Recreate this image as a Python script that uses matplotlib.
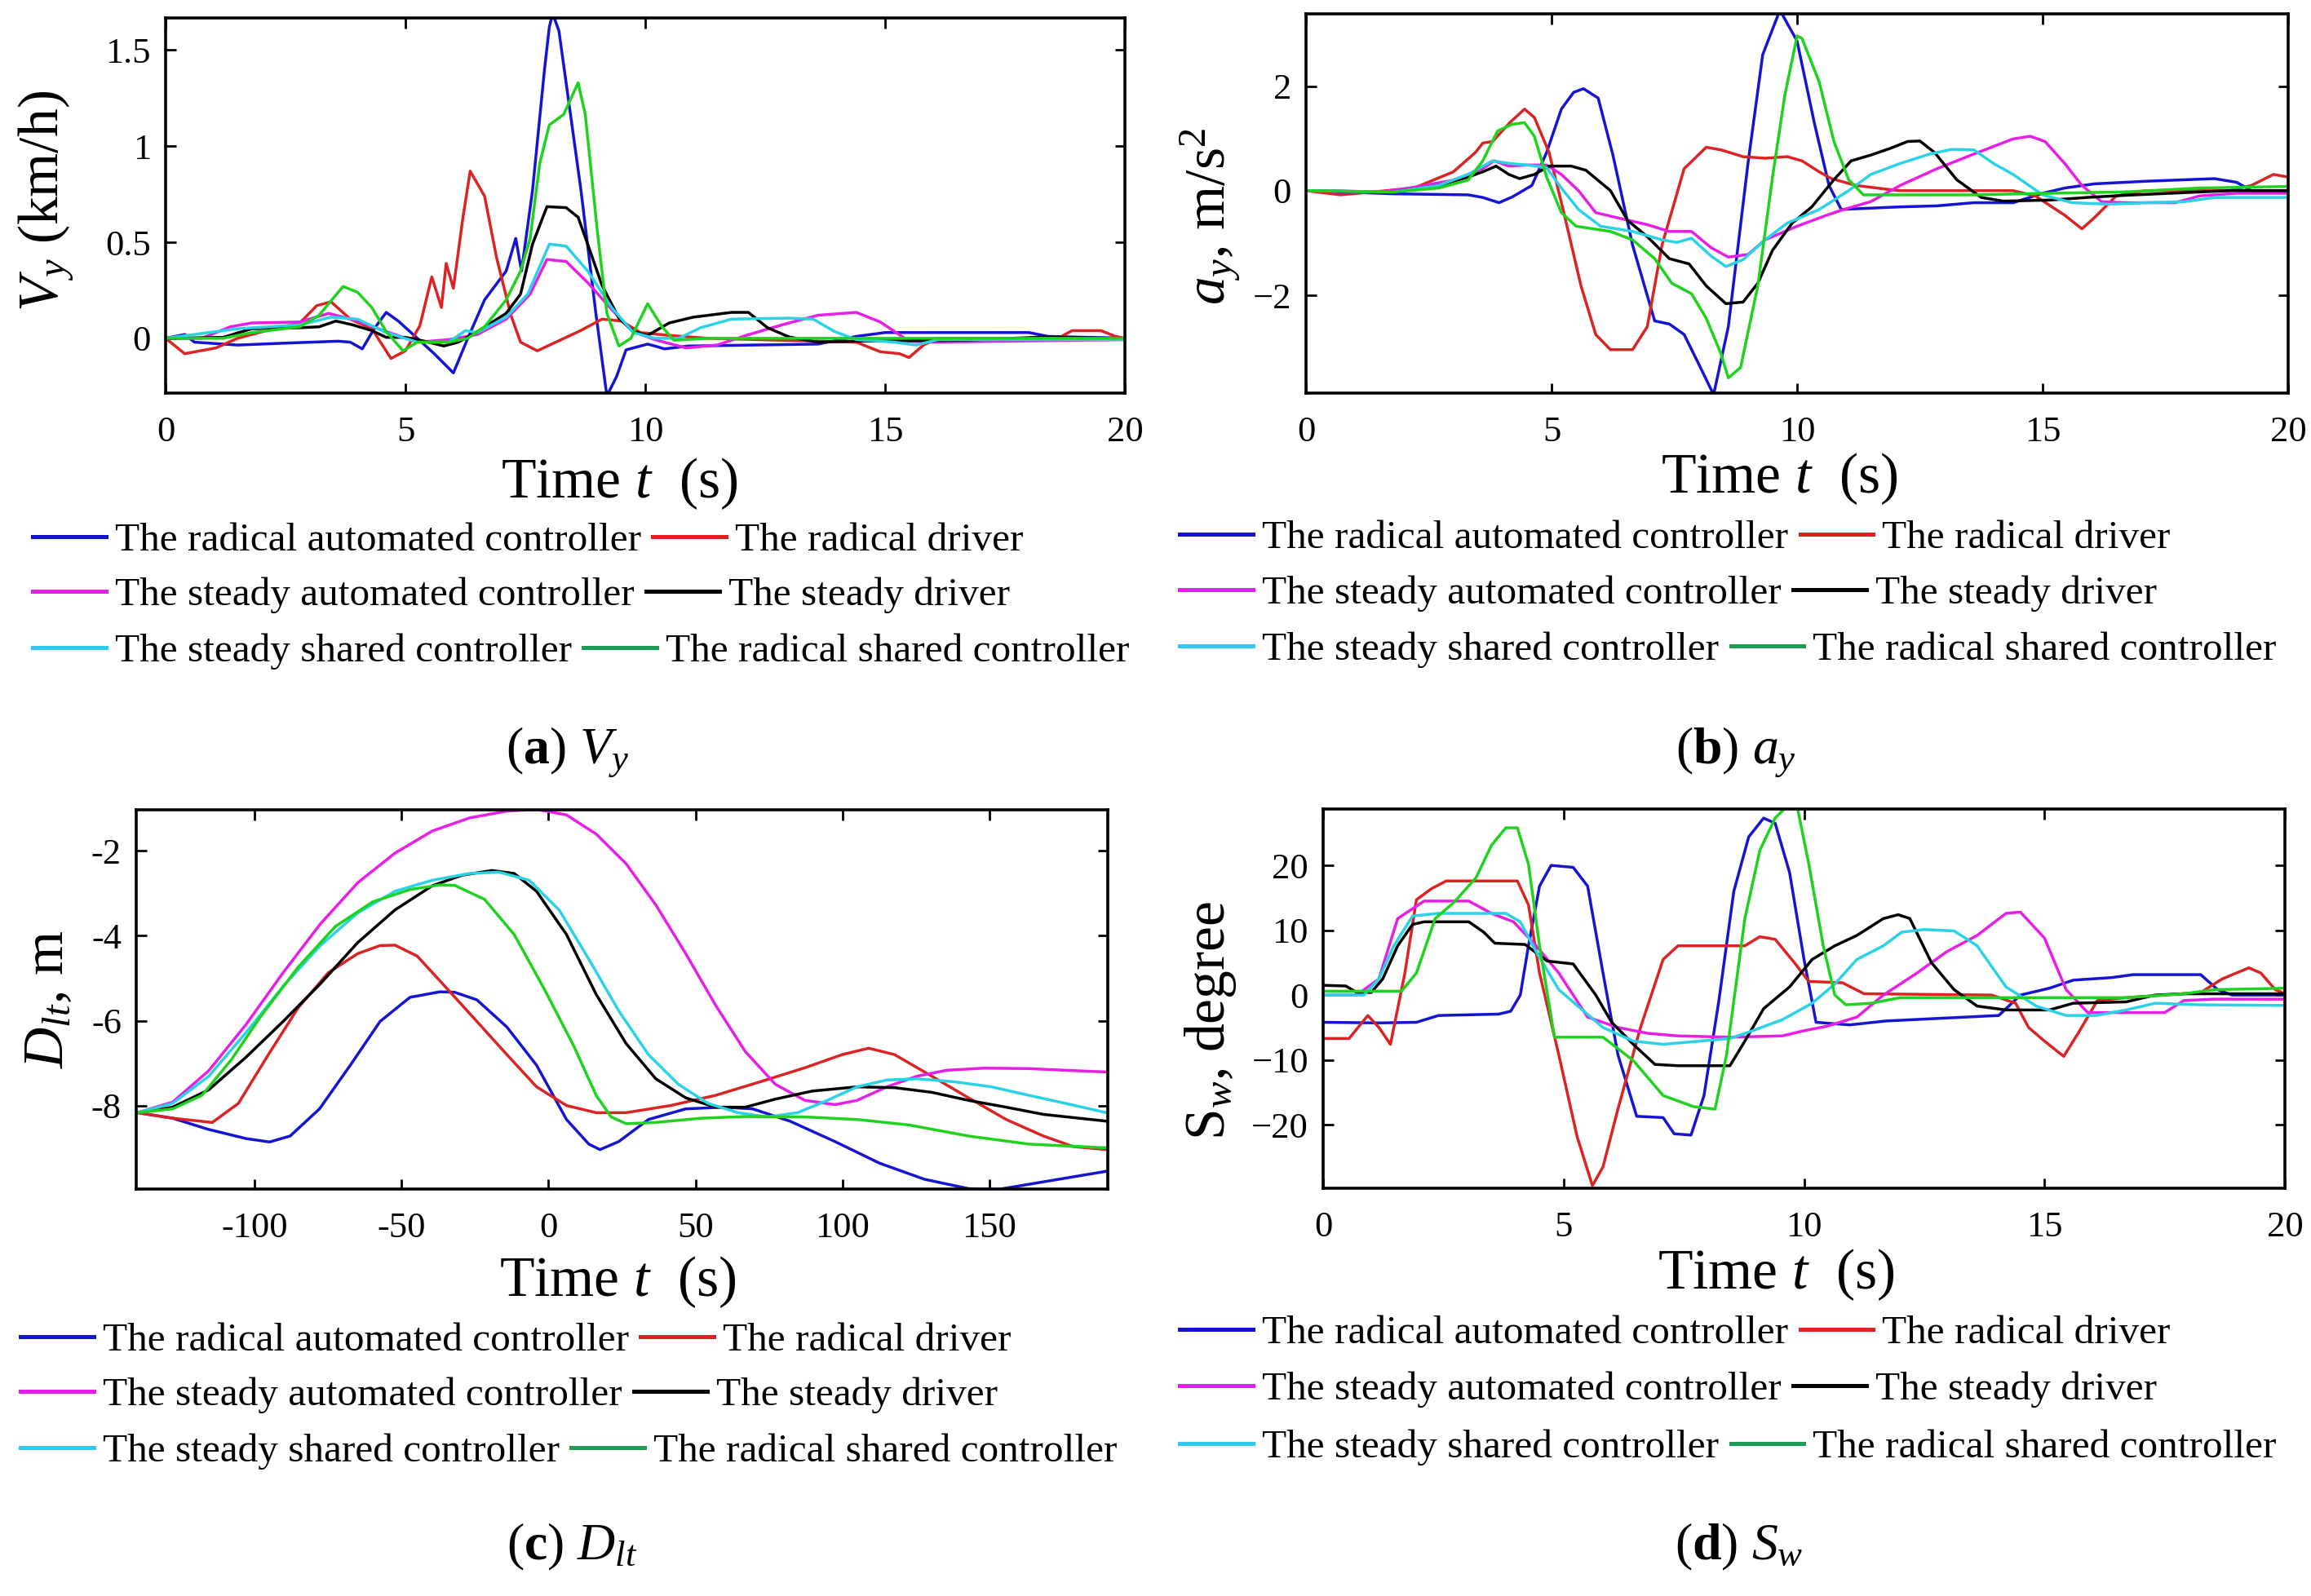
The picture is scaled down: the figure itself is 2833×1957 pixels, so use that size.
import numpy as np
import matplotlib
matplotlib.use("Agg")
import matplotlib.pyplot as plt
from matplotlib.lines import Line2D

plt.rcParams['font.family'] = ['Liberation Serif', 'DejaVu Serif']
plt.rcParams['mathtext.fontset'] = 'custom'
plt.rcParams['mathtext.rm'] = 'Liberation Serif'
plt.rcParams['mathtext.it'] = 'Liberation Serif:italic'
plt.rcParams['mathtext.bf'] = 'Liberation Serif:bold'

W, H = 2833, 1957

# ---------------- data ----------------
LABELS = ["The radical automated controller", "The radical driver",
          "The steady automated controller", "The steady driver",
          "The steady shared controller", "The radical shared controller"]
LINE_COLORS = ["#1414d2", "#dc2323", "#e61ee6", "#000000", "#2ad2e6", "#1ed21e"]
LEGEND_COLORS = ["#1414c8", "#dc2323", "#e61ee6", "#000000", "#32c8ee", "#1e9b55"]

# (a) lateral speed Vy, km/h
vy_rad_auto = [(0, 0), (0.4, 0.02), (0.6, -0.02), (1.5, -0.035), (2.5, -0.025), (3.6, -0.015),
               (3.85, -0.02), (4.1, -0.055), (4.35, 0.05), (4.6, 0.135), (4.85, 0.09), (5.25, 0.0),
               (5.6, -0.08), (6.0, -0.18), (6.3, 0.0), (6.65, 0.2), (7.1, 0.35), (7.3, 0.52),
               (7.42, 0.35), (7.65, 0.77), (7.9, 1.4), (8.0, 1.62), (8.07, 1.69), (8.2, 1.6),
               (8.35, 1.33), (8.66, 0.77), (8.97, 0.13), (9.2, -0.3), (9.4, -0.2), (9.6, -0.06),
               (10.05, -0.03), (10.2, -0.04), (10.4, -0.055), (10.9, -0.04), (13.6, -0.03),
               (14.4, 0.01), (15.0, 0.03), (18.0, 0.03), (18.4, 0.01), (20, 0.0)]
vy_rad_drv = [(0, 0), (0.4, -0.08), (1.05, -0.05), (1.5, 0.0), (2.1, 0.04), (2.8, 0.08), (3.15, 0.17),
              (3.45, 0.19), (3.85, 0.1), (4.3, 0.05), (4.7, -0.105), (5.0, -0.065), (5.3, 0.065),
              (5.55, 0.32), (5.75, 0.16), (5.85, 0.39), (6.0, 0.26), (6.2, 0.63), (6.35, 0.87),
              (6.65, 0.74), (6.9, 0.42), (7.2, 0.12), (7.4, -0.02), (7.75, -0.065), (8.05, -0.03),
              (8.65, 0.04), (9.1, 0.1), (9.5, 0.09), (9.9, 0.03), (10.5, 0.015), (11.3, 0.0),
              (14.4, -0.02), (14.9, -0.07), (15.3, -0.08), (15.5, -0.1), (15.8, -0.035), (16.1, 0.0),
              (18.6, 0.0), (18.9, 0.04), (19.5, 0.04), (19.8, 0.01), (20, 0.0)]
vy_std_auto = [(0, 0), (0.75, 0.0), (1.35, 0.06), (1.8, 0.08), (2.8, 0.085), (3.4, 0.13), (4.0, 0.09),
               (4.6, 0.035), (5.25, -0.02), (5.9, -0.007), (6.5, 0.02), (7.1, 0.1), (7.6, 0.23),
               (7.95, 0.41), (8.35, 0.4), (8.8, 0.29), (9.3, 0.15), (9.75, 0.035), (10.2, -0.007),
               (10.85, -0.05), (11.5, -0.035), (12.1, 0.015), (12.85, 0.07), (13.6, 0.12),
               (14.4, 0.135), (14.9, 0.085), (15.5, -0.015), (16.0, -0.02), (20, -0.007)]
vy_std_drv = [(0, 0), (1.2, 0.005), (1.8, 0.05), (2.8, 0.055), (3.2, 0.06), (3.55, 0.09), (3.9, 0.07),
              (4.3, 0.04), (4.6, 0.005), (5.0, 0.005), (5.4, -0.015), (5.8, -0.04), (6.1, -0.02),
              (6.5, 0.035), (7.1, 0.13), (7.4, 0.23), (7.65, 0.49), (7.95, 0.685), (8.35, 0.68),
              (8.6, 0.63), (8.8, 0.49), (9.1, 0.275), (9.45, 0.105), (9.75, 0.035), (10.05, 0.015),
              (10.5, 0.08), (11.0, 0.11), (11.8, 0.135), (12.15, 0.135), (12.55, 0.055), (13.0, 0.007),
              (13.6, -0.02), (14.4, -0.015), (16.7, -0.01), (18.3, 0.007), (20, 0.0)]
vy_std_shared = [(0, 0), (1.5, 0.05), (2.8, 0.07), (3.45, 0.11), (4.0, 0.1), (4.6, 0.03), (5.25, -0.02),
                 (5.9, -0.02), (6.25, 0.04), (6.5, 0.03), (7.1, 0.11), (7.55, 0.23), (8.0, 0.49),
                 (8.35, 0.48), (8.8, 0.35), (9.3, 0.16), (9.75, 0.03), (10.2, 0.0), (10.7, 0.0),
                 (11.15, 0.055), (11.8, 0.1), (13.0, 0.105), (13.5, 0.1), (13.95, 0.035),
                 (14.4, -0.007), (15.2, -0.02), (15.65, -0.035), (16.1, -0.007), (20, -0.007)]
vy_rad_shared = [(0, 0), (1.2, 0.0), (1.8, 0.03), (2.8, 0.06), (3.2, 0.12), (3.7, 0.27), (4.0, 0.24),
                 (4.3, 0.16), (4.6, 0.035), (4.95, -0.065), (5.25, -0.02), (5.9, -0.02), (6.3, 0.0),
                 (6.65, 0.06), (7.1, 0.2), (7.4, 0.35), (7.6, 0.52), (7.8, 0.91), (8.0, 1.11),
                 (8.3, 1.165), (8.4, 1.22), (8.6, 1.33), (8.75, 1.165), (9.0, 0.56), (9.2, 0.13),
                 (9.45, -0.04), (9.7, 0.0), (10.05, 0.18), (10.35, 0.06), (10.6, -0.01), (11.3, 0.0),
                 (20, 0.0)]

# (b) lateral acceleration ay, m/s^2
ay_rad_auto = [(0, 0), (1.78, -0.06), (3.3, -0.08), (3.6, -0.13), (3.93, -0.23), (4.2, -0.12), (4.6, 0.1),
               (4.9, 0.73), (5.2, 1.56), (5.45, 1.88), (5.65, 1.95), (5.95, 1.77), (6.25, 0.68),
               (6.65, -1.04), (7.1, -2.49), (7.4, -2.55), (7.7, -2.75), (8.0, -3.32), (8.3, -3.9),
               (8.6, -2.6), (9.0, 0.52), (9.3, 2.6), (9.65, 3.45), (10.0, 2.86), (10.35, 1.3),
               (10.65, 0.1), (10.9, -0.36), (11.35, -0.34), (12.1, -0.31), (12.85, -0.29),
               (13.6, -0.23), (14.4, -0.23), (15.0, -0.05), (15.45, 0.05), (16.05, 0.13),
               (17.1, 0.18), (18.5, 0.23), (18.95, 0.16), (19.25, 0.0), (20, 0.0)]
ay_rad_drv = [(0, 0), (0.7, -0.08), (1.3, -0.03), (2.2, 0.05), (3.0, 0.36), (3.45, 0.73), (3.6, 0.91),
              (3.8, 0.94), (4.15, 1.3), (4.45, 1.56), (4.65, 1.4), (4.95, 0.73), (5.25, -0.42),
              (5.6, -1.82), (5.9, -2.75), (6.2, -3.04), (6.65, -3.04), (6.95, -2.6), (7.25, -1.04),
              (7.7, 0.42), (8.15, 0.83), (8.45, 0.78), (8.9, 0.65), (9.35, 0.62), (9.8, 0.65),
              (10.1, 0.57), (10.45, 0.36), (10.7, 0.23), (11.2, 0.1), (11.8, 0.03), (12.1, 0.0),
              (14.4, 0.0), (14.85, -0.1), (15.45, -0.47), (15.8, -0.73), (16.05, -0.52),
              (16.5, -0.1), (17.1, 0.0), (18.8, 0.0), (19.25, 0.1), (19.7, 0.31), (20, 0.26)]
ay_std_auto = [(0, 0), (1.5, -0.025), (2.1, 0.05), (3.0, 0.2), (3.6, 0.42), (3.83, 0.57), (4.13, 0.47),
               (4.5, 0.49), (4.9, 0.49), (5.2, 0.31), (5.55, 0.0), (5.9, -0.42), (6.35, -0.52),
               (6.95, -0.65), (7.4, -0.78), (7.85, -0.78), (8.25, -1.09), (8.6, -1.27), (9.0, -1.22),
               (9.35, -0.94), (10.0, -0.68), (10.6, -0.47), (10.95, -0.36), (11.5, -0.21),
               (12.1, 0.1), (12.85, 0.42), (13.6, 0.7), (14.4, 0.99), (14.75, 1.04), (15.05, 0.94),
               (15.45, 0.52), (15.8, 0.1), (16.2, -0.21), (16.65, -0.23), (17.7, -0.23),
               (18.2, -0.1), (18.95, -0.05), (20, -0.05)]
ay_std_drv = [(0, 0), (1.78, -0.025), (2.7, 0.1), (3.3, 0.26), (3.6, 0.36), (3.87, 0.47), (4.13, 0.31),
              (4.35, 0.23), (4.65, 0.31), (4.95, 0.47), (5.4, 0.47), (5.7, 0.39), (6.2, 0.0),
              (6.55, -0.57), (6.95, -0.88), (7.4, -1.3), (7.8, -1.4), (8.15, -1.82), (8.55, -2.16),
              (8.9, -2.13), (9.2, -1.77), (9.5, -1.14), (9.9, -0.62), (10.3, -0.31), (10.75, 0.21),
              (11.1, 0.57), (11.5, 0.68), (11.9, 0.81), (12.25, 0.94), (12.5, 0.95), (12.8, 0.73),
              (13.25, 0.21), (13.75, -0.13), (14.2, -0.2), (15.15, -0.18), (15.9, -0.13),
              (16.65, -0.09), (18.2, -0.025), (18.8, 0.0), (20, 0.0)]
ay_std_shared = [(0, 0), (1.78, -0.025), (2.7, 0.1), (3.3, 0.31), (3.8, 0.57), (4.15, 0.52), (4.5, 0.49),
                 (4.9, 0.44), (5.2, 0.05), (5.55, -0.36), (6.0, -0.68), (6.65, -0.78), (7.25, -0.94),
                 (7.55, -0.99), (7.85, -0.91), (8.25, -1.25), (8.55, -1.45), (8.9, -1.32),
                 (9.35, -0.94), (9.8, -0.62), (10.45, -0.36), (11.05, 0.0), (11.5, 0.31), (12.1, 0.52),
                 (12.7, 0.7), (13.15, 0.79), (13.6, 0.78), (14.0, 0.52), (14.4, 0.31), (15.0, -0.08),
                 (15.6, -0.23), (16.35, -0.26), (17.1, -0.23), (17.9, -0.21), (18.5, -0.13),
                 (20, -0.13)]
ay_rad_shared = [(0, 0), (1.78, -0.025), (2.7, 0.05), (3.3, 0.2), (3.6, 0.57), (3.9, 1.14), (4.2, 1.27),
                 (4.45, 1.3), (4.65, 1.04), (4.9, 0.26), (5.2, -0.42), (5.5, -0.68), (6.2, -0.78),
                 (6.65, -0.94), (7.1, -1.3), (7.45, -1.77), (7.85, -1.97), (8.15, -2.44),
                 (8.45, -3.12), (8.6, -3.58), (8.85, -3.38), (9.2, -1.82), (9.5, 0.26), (9.75, 1.82),
                 (10.0, 2.96), (10.1, 2.91), (10.45, 2.08), (10.75, 0.94), (11.05, 0.21),
                 (11.35, -0.08), (13.6, -0.08), (15.15, -0.05), (16.65, -0.025), (18.2, 0.05),
                 (20, 0.08)]

# (c) lateral distance Dlt, m
dlt_rad_auto = [(-140, -8.17), (-128, -8.3), (-116, -8.56), (-103, -8.78), (-95, -8.86), (-88, -8.72),
                (-78, -8.08), (-67.5, -7.05), (-57.4, -6.02), (-47.2, -5.45), (-37, -5.32),
                (-32, -5.33), (-24.4, -5.51), (-14.2, -6.15), (-4.1, -7.05), (6.1, -8.33),
                (13.7, -8.91), (17.5, -9.04), (23.9, -8.85), (34, -8.33), (46.7, -8.08),
                (59.4, -8.04), (69.5, -8.08), (82.2, -8.37), (97.5, -8.85), (112.7, -9.36),
                (128, -9.74), (143, -9.96), (153, -9.98), (168.5, -9.8), (190, -9.55)]
dlt_rad_drv = [(-140, -8.17), (-128, -8.3), (-114.5, -8.4), (-105.6, -7.95), (-95.4, -6.8),
               (-85.3, -5.7), (-75, -4.87), (-65, -4.42), (-57.4, -4.23), (-52.3, -4.22),
               (-44.7, -4.48), (-34.5, -5.25), (-24.4, -6.02), (-14.2, -6.8), (-4.1, -7.56),
               (6.1, -8.0), (16.2, -8.17), (26.4, -8.17), (41.6, -8.0), (56.9, -7.76), (72.1, -7.44),
               (87.3, -7.11), (100, -6.8), (109, -6.65), (117.8, -6.8), (130.5, -7.31),
               (143, -7.82), (155.8, -8.33), (168.5, -8.72), (178.7, -8.97), (190, -9.04)]
dlt_std_auto = [(-140, -8.17), (-128, -7.92), (-115.7, -7.18), (-103, -6.09), (-90.4, -4.87),
                (-77.7, -3.72), (-65, -2.75), (-52.3, -2.05), (-39.6, -1.53), (-26.9, -1.22),
                (-14.2, -1.06), (-4.1, -1.02), (6.1, -1.15), (16.2, -1.6), (26.4, -2.3),
                (36.5, -3.27), (46.7, -4.42), (56.9, -5.64), (67, -6.73), (77.2, -7.5),
                (87.3, -7.88), (97.5, -7.98), (105, -7.88), (115.2, -7.56), (125.4, -7.31),
                (135.5, -7.17), (148.2, -7.12), (163.5, -7.13), (176, -7.17), (190, -7.21)]
dlt_std_drv = [(-140, -8.17), (-128, -8.04), (-115.7, -7.63), (-103, -6.86), (-90.4, -6.02),
               (-77.7, -5.13), (-65, -4.16), (-52.3, -3.39), (-39.6, -2.82), (-29.4, -2.57),
               (-19.3, -2.46), (-11.7, -2.53), (-4.1, -2.95), (6.1, -3.97), (16.2, -5.38),
               (26.4, -6.54), (36.5, -7.37), (46.7, -7.82), (56.9, -8.04), (67, -8.04),
               (77.2, -7.85), (89.8, -7.66), (105, -7.56), (117.8, -7.58), (130.5, -7.69),
               (143, -7.88), (155.8, -8.04), (168.5, -8.21), (190, -8.37)]
dlt_std_shared = [(-140, -8.17), (-128, -7.95), (-115.7, -7.31), (-103, -6.28), (-90.4, -5.19),
                  (-77.7, -4.23), (-65, -3.46), (-52.3, -2.95), (-39.6, -2.69), (-26.9, -2.53),
                  (-16.8, -2.5), (-6.6, -2.69), (3.6, -3.39), (13.7, -4.55), (23.9, -5.77),
                  (34, -6.8), (44.2, -7.5), (54.3, -7.95), (64.5, -8.17), (74.6, -8.27),
                  (84.8, -8.17), (94.9, -7.88), (105, -7.56), (115.2, -7.4), (125.4, -7.37),
                  (138, -7.44), (150.8, -7.56), (163.5, -7.76), (176, -7.95), (190, -8.17)]
dlt_rad_shared = [(-140, -8.17), (-128, -8.08), (-118, -7.76), (-108, -6.92), (-98, -5.9),
                  (-85.3, -4.74), (-72.6, -3.78), (-59.9, -3.2), (-47.2, -2.91), (-37, -2.8),
                  (-32, -2.81), (-21.8, -3.14), (-11.7, -3.97), (-1.5, -5.25), (8.6, -6.6),
                  (16.2, -7.76), (21.3, -8.27), (26.4, -8.43), (36.5, -8.4), (51.8, -8.3),
                  (67, -8.26), (87.3, -8.27), (105, -8.33), (122.8, -8.46), (143, -8.72),
                  (163.5, -8.91), (190, -9.0)]

# (d) steering wheel angle Sw, degree
sw_rad_auto = [(0, -4.2), (1.16, -4.3), (1.94, -4.2), (2.4, -3.15), (3.65, -2.94), (3.9, -2.5), (4.1, 0.0),
               (4.27, 7.6), (4.5, 16.8), (4.74, 20.0), (5.2, 19.7), (5.5, 16.8), (5.82, 3.4),
               (6.13, -9.2), (6.52, -18.7), (7.07, -18.9), (7.3, -21.4), (7.65, -21.6),
               (7.92, -15.5), (8.23, -0.84), (8.54, 16.0), (8.85, 24.4), (9.16, 27.3), (9.4, 26.5),
               (9.7, 18.9), (10.0, 5.5), (10.25, -4.2), (10.95, -4.6), (11.7, -4.0), (12.8, -3.6),
               (14.05, -3.15), (14.5, 0.0), (15.1, 1.05), (15.6, 2.3), (16.4, 2.7), (16.85, 3.15),
               (18.25, 3.15), (18.6, 0.84), (18.9, 0.0), (20, 0.0)]
sw_rad_drv = [(0, -6.7), (0.54, -6.7), (0.93, -3.15), (1.16, -5.0), (1.4, -7.6), (1.7, 3.4),
              (1.94, 14.7), (2.25, 16.4), (2.56, 17.6), (4.04, 17.6), (4.27, 13.9), (4.5, 3.4),
              (4.9, -9.2), (5.28, -21.8), (5.6, -29.4), (5.82, -26.5), (6.13, -17.6), (6.6, -5.0),
              (7.07, 5.5), (7.38, 7.6), (8.77, 7.6), (9.08, 9.0), (9.4, 8.6), (9.8, 5.0),
              (10.1, 2.1), (10.8, 1.9), (11.25, 0.2), (13.9, 0.0), (14.4, -1.26), (14.67, -5.0),
              (15.0, -7.1), (15.4, -9.45), (15.7, -5.9), (16.1, -0.84), (16.7, -0.4), (18.25, 0.4),
              (18.7, 2.5), (19.25, 4.2), (19.5, 3.4), (19.8, 0.84), (20, 0.2)]
sw_std_auto = [(0, 0.0), (0.7, 0.0), (1.16, 2.5), (1.55, 11.8), (2.1, 14.5), (3.03, 14.5), (3.5, 12.6),
               (3.96, 11.3), (4.43, 7.6), (4.9, 3.4), (5.5, -3.4), (6.13, -5.0), (6.75, -5.9),
               (7.38, -6.3), (8.46, -6.5), (9.55, -6.3), (10.0, -5.5), (10.48, -4.8), (11.1, -3.4),
               (11.65, 0.0), (12.35, 3.4), (12.97, 6.7), (13.6, 9.2), (14.2, 12.6), (14.5, 12.8),
               (15.0, 8.8), (15.45, 0.84), (15.9, -2.7), (17.5, -2.7), (17.9, -0.84),
               (18.55, -0.63), (20, -0.63)]
sw_std_drv = [(0, 1.5), (0.47, 1.4), (0.7, 0.4), (1.0, 0.4), (1.24, 2.5), (1.55, 7.6), (1.86, 10.9),
              (2.1, 11.3), (3.03, 11.3), (3.34, 9.7), (3.57, 8.0), (4.2, 7.8), (4.66, 5.25),
              (5.2, 4.8), (5.67, 0.0), (6.0, -4.2), (6.45, -7.6), (6.9, -10.7), (7.38, -10.9),
              (8.46, -10.9), (8.77, -7.1), (9.16, -2.1), (9.7, 1.26), (10.17, 5.5), (10.64, 7.6),
              (11.1, 9.2), (11.65, 11.8), (11.96, 12.4), (12.2, 11.8), (12.65, 5.0), (13.12, 0.84),
              (13.6, -1.7), (14.2, -2.3), (15.1, -2.3), (15.6, -1.26), (16.7, -1.05), (17.3, 0.0),
              (17.9, 0.2), (20, 0.2)]
sw_std_shared = [(0, 0.0), (0.85, 0.0), (1.16, 2.5), (1.47, 7.6), (1.86, 12.2), (2.4, 12.6), (3.8, 12.6),
                 (4.1, 11.3), (4.43, 6.7), (4.9, 0.84), (5.36, -2.1), (5.82, -5.0), (6.45, -7.1),
                 (7.07, -7.6), (7.84, -7.1), (8.46, -6.7), (8.93, -5.5), (9.55, -3.8),
                 (10.17, -1.26), (10.64, 1.7), (11.1, 5.5), (11.65, 7.6), (12.03, 9.7), (12.5, 10.1),
                 (13.12, 9.9), (13.6, 7.6), (14.2, 1.26), (14.83, -1.7), (15.45, -3.15),
                 (16.07, -3.15), (16.7, -2.3), (17.3, -1.26), (18.25, -1.5), (20, -1.6)]
sw_rad_shared = [(0, 0.6), (1.63, 0.6), (1.94, 3.4), (2.33, 11.8), (2.72, 14.3), (3.18, 18.1),
                 (3.5, 23.1), (3.8, 25.8), (4.04, 25.8), (4.27, 20.2), (4.5, 7.6), (4.81, -6.5),
                 (5.82, -6.5), (6.45, -10.1), (7.07, -15.5), (7.7, -17.2), (8.15, -17.6),
                 (8.39, -9.2), (8.77, 11.8), (9.08, 22.3), (9.4, 27.3), (9.63, 29.0), (9.86, 29.0),
                 (10.1, 20.2), (10.4, 7.6), (10.64, 0.0), (10.87, -1.5), (11.4, -1.26), (12.0, -0.4),
                 (16.7, -0.4), (17.9, 0.2), (18.55, 0.84), (20, 1.05)]

# ticks
TIME_TICKS = [0, 5, 10, 15, 20]
VY_TICKS = [0, 0.5, 1, 1.5]
VY_TICKLABELS = ["0", "0.5", "1", "1.5"]
AY_TICKS = [-2, 0, 2]
AY_TICKLABELS = ["\u22122", "0", "2"]
DLT_XTICKS = [-100, -50, 0, 50, 100, 150]
DLT_XTICKLABELS = ["-100", "-50", "0", "50", "100", "150"]
DLT_YTICKS = [-8, -6, -4, -2]
DLT_YTICKLABELS = ["-8", "-6", "-4", "-2"]
SW_TICKS = [-20, -10, 0, 10, 20]
SW_TICKLABELS = ["\u221220", "\u221210", "0", "10", "20"]


def fx(px):
    return px / W


def fy(px):
    return 1 - px / H


def make_axes(fig, left, top, right, bottom):
    '''
    make_axes adds an axes given its box in pixel coordinates
    '''
    ax = fig.add_axes([fx(left), fy(bottom), (right - left) / W, (bottom - top) / H])
    for s in ax.spines.values():
        s.set_linewidth(2.6)
    ax.tick_params(direction='in', length=9, width=2.0, top=True, right=True,
                   labelsize=32, pad=20)
    ax.tick_params(axis='y', pad=13)
    return ax


def draw_series(ax, series_list):
    '''
    draw_series plots the six curves of one panel, in legend order
    '''
    for pts, col in zip(series_list, LINE_COLORS):
        arr = np.array(pts)
        ax.plot(arr[:, 0], arr[:, 1], color=col, lw=2.5, solid_joinstyle='round')


def draw_legend(fig, rows):
    '''
    draw_legend places the three legend rows of one panel

    Args:
        rows: list of (x pixel, y pixel) for the start of each row
    '''
    for r, (x, y) in enumerate(rows):
        idx = [2 * r, 2 * r + 1]
        handles = [Line2D([], [], color=LEGEND_COLORS[i], lw=3.6) for i in idx]
        fig.legend(handles, [LABELS[i] for i in idx], loc='center left',
                   bbox_to_anchor=(fx(x), fy(y)), ncol=2, frameon=False,
                   borderpad=0, borderaxespad=0, handlelength=1.82,
                   handletextpad=0.22, columnspacing=0.3, fontsize=35.5)


fig = plt.figure(figsize=(W / 100, H / 100), dpi=100)

# ---- (a) ----
ax_a = make_axes(fig, 203, 22, 1379, 482)
draw_series(ax_a, [vy_rad_auto, vy_rad_drv, vy_std_auto, vy_std_drv, vy_std_shared, vy_rad_shared])
ax_a.set_xlim(0, 20)
ax_a.set_ylim(-0.285, 1.667)
ax_a.set_xticks(TIME_TICKS)
ax_a.set_yticks(VY_TICKS, VY_TICKLABELS)
fig.text(fx(759), fy(593), "Time $t$  (s)", fontsize=50, ha='center', va='center')
fig.text(fx(57), fy(246), "$V_y$ (km/h)", fontsize=50, rotation=90, ha='center', va='center')
draw_legend(fig, [(40, 663), (40, 730), (40, 799)])
fig.text(fx(696), fy(922), r"($\mathbf{a}$) $V_y$", fontsize=46, ha='center', va='center')

# ---- (b) ----
ax_b = make_axes(fig, 1601, 17, 2805, 482)
draw_series(ax_b, [ay_rad_auto, ay_rad_drv, ay_std_auto, ay_std_drv, ay_std_shared, ay_rad_shared])
ax_b.set_xlim(0, 20)
ax_b.set_ylim(-3.87, 3.38)
ax_b.set_xticks(TIME_TICKS)
ax_b.set_yticks(AY_TICKS, AY_TICKLABELS)
fig.text(fx(2181), fy(587), "Time $t$  (s)", fontsize=50, ha='center', va='center')
fig.text(fx(1484), fy(265), "$a_y$, m/s$^{2}$", fontsize=50, rotation=90, ha='center', va='center')
draw_legend(fig, [(1446, 660), (1446, 728), (1446, 797)])
fig.text(fx(2128), fy(922), r"($\mathbf{b}$) $a_y$", fontsize=46, ha='center', va='center')

# ---- (c) ----
ax_c = make_axes(fig, 167, 993, 1358, 1458)
draw_series(ax_c, [dlt_rad_auto, dlt_rad_drv, dlt_std_auto, dlt_std_drv, dlt_std_shared, dlt_rad_shared])
ax_c.set_xlim(-140.4, 190.4)
ax_c.set_ylim(-9.97, -1.03)
ax_c.set_xticks(DLT_XTICKS, DLT_XTICKLABELS)
ax_c.set_yticks(DLT_YTICKS, DLT_YTICKLABELS)
fig.text(fx(757), fy(1572), "Time $t$  (s)", fontsize=50, ha='center', va='center')
fig.text(fx(60), fy(1225), "$D_{lt}$, m", fontsize=50, rotation=90, ha='center', va='center')
draw_legend(fig, [(25, 1644), (25, 1711), (25, 1780)])
fig.text(fx(701), fy(1897), r"($\mathbf{c}$) $D_{lt}$", fontsize=46, ha='center', va='center')

# ---- (d) ----
ax_d = make_axes(fig, 1622, 992, 2801, 1457)
draw_series(ax_d, [sw_rad_auto, sw_rad_drv, sw_std_auto, sw_std_drv, sw_std_shared, sw_rad_shared])
ax_d.set_xlim(0, 20)
ax_d.set_ylim(-29.8, 28.7)
ax_d.set_xticks(TIME_TICKS)
ax_d.set_yticks(SW_TICKS, SW_TICKLABELS)
fig.text(fx(2177), fy(1563), "Time $t$  (s)", fontsize=50, ha='center', va='center')
fig.text(fx(1484), fy(1252), "S$_w$, degree", fontsize=50, rotation=90, ha='center', va='center')
draw_legend(fig, [(1446, 1635), (1446, 1704), (1446, 1775)])
fig.text(fx(2132), fy(1897), r"($\mathbf{d}$) $S_w$", fontsize=46, ha='center', va='center')

fig.savefig("out.png", dpi=100)
